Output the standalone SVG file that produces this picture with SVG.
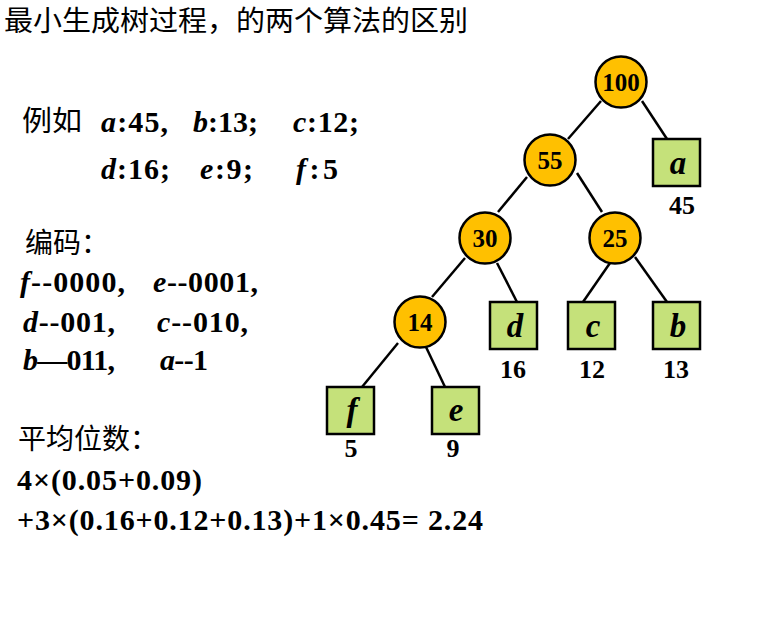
<svg xmlns="http://www.w3.org/2000/svg" width="762" height="620" viewBox="0 0 762 620">
<style>
.cjk{font-family:"Liberation Serif","Noto Sans CJK SC",serif;font-size:28px;fill:#000}
.bt{font-family:"Liberation Serif",serif;font-weight:bold;font-size:30px;fill:#000}
.it{font-style:italic}
.num{font-family:"Liberation Serif",serif;font-weight:bold;font-size:25px;text-anchor:middle;fill:#000}
.lbl{font-family:"Liberation Serif",serif;font-weight:bold;font-size:26px;text-anchor:middle;fill:#000}
.let{font-family:"Liberation Serif",serif;font-weight:bold;font-style:italic;font-size:33px;text-anchor:middle;fill:#000}
.c{fill:#FFC000;stroke:#000;stroke-width:2.5}
.r{fill:#C5E17A;stroke:#000;stroke-width:2.5}
.e{stroke:#000;stroke-width:2.5;fill:none}
</style>
<rect width="762" height="620" fill="#fff"/>
<text class="cjk" x="4" y="31" textLength="464" lengthAdjust="spacingAndGlyphs">最小生成树过程，的两个算法的区别</text>

<g id="example">
<text class="cjk" x="22" y="131" textLength="60" lengthAdjust="spacingAndGlyphs">例如</text>
<text class="bt" x="101" y="132" textLength="67" lengthAdjust="spacing"><tspan class="it">a</tspan>:45,</text>
<text class="bt" x="193" y="132" textLength="65" lengthAdjust="spacing"><tspan class="it">b</tspan>:13;</text>
<text class="bt" x="293" y="132" textLength="66" lengthAdjust="spacing"><tspan class="it">c</tspan>:12;</text>
<text class="bt" x="101" y="179" textLength="69" lengthAdjust="spacing"><tspan class="it">d</tspan>:16;</text>
<text class="bt" x="200" y="179" textLength="53" lengthAdjust="spacing"><tspan class="it">e</tspan>:9;</text>
<text class="bt" x="296" y="179" textLength="42" lengthAdjust="spacing"><tspan class="it">f</tspan>:5</text>
</g>

<g id="coding">
<text class="cjk" x="25" y="253">编码：</text>
<text class="bt" x="20" y="292" textLength="105" lengthAdjust="spacing"><tspan class="it">f</tspan>--0000,</text>
<text class="bt" x="153" y="292" textLength="105" lengthAdjust="spacing"><tspan class="it">e</tspan>--0001,</text>
<text class="bt" x="23" y="332" textLength="92" lengthAdjust="spacing"><tspan class="it">d</tspan>--001,</text>
<text class="bt" x="157" y="332" textLength="91" lengthAdjust="spacing"><tspan class="it">c</tspan>--010,</text>
<text class="bt" x="23" y="370" textLength="92" lengthAdjust="spacing"><tspan class="it">b</tspan>—011,</text>
<text class="bt" x="160" y="370" textLength="48" lengthAdjust="spacing"><tspan class="it">a</tspan>--1</text>
</g>

<g id="average">
<text class="cjk" x="18" y="449">平均位数：</text>
<text class="bt" x="17" y="490" textLength="185" lengthAdjust="spacing">4×(0.05+0.09)</text>
<text class="bt" x="17" y="530" textLength="466" lengthAdjust="spacing">+3×(0.16+0.12+0.13)+1×0.45= 2.24</text>
</g>

<g id="connectors">
<line class="e" x1="601" y1="101" x2="568" y2="139"/>
<line class="e" x1="642" y1="101" x2="667" y2="139"/>
<line class="e" x1="527" y1="177" x2="498" y2="212"/>
<line class="e" x1="577" y1="173" x2="602" y2="212"/>
<line class="e" x1="465" y1="258" x2="432" y2="297"/>
<line class="e" x1="497" y1="263" x2="517" y2="302"/>
<line class="e" x1="610" y1="263" x2="583" y2="302"/>
<line class="e" x1="635" y1="257" x2="667" y2="302"/>
<line class="e" x1="398" y1="343" x2="362" y2="387"/>
<line class="e" x1="426" y1="347" x2="445" y2="387"/>
</g>

<g id="n100"><circle class="c" cx="621" cy="82" r="25.5"/><text class="num" x="621" y="91">100</text></g>
<g id="n55"><circle class="c" cx="550" cy="160" r="25.5"/><text class="num" x="550" y="169">55</text></g>
<g id="n30"><circle class="c" cx="485" cy="238" r="25.5"/><text class="num" x="485" y="247">30</text></g>
<g id="n25"><circle class="c" cx="615" cy="238" r="25.5"/><text class="num" x="615" y="247">25</text></g>
<g id="n14"><circle class="c" cx="420" cy="322" r="25.5"/><text class="num" x="420" y="331">14</text></g>

<g id="leaf-a"><rect class="r" x="653" y="139" width="47" height="47"/><text class="let" x="678" y="174">a</text><text class="lbl" x="682" y="214">45</text></g>
<g id="leaf-d"><rect class="r" x="490" y="302" width="47" height="47"/><text class="let" x="515" y="337">d</text><text class="lbl" x="513" y="378">16</text></g>
<g id="leaf-c"><rect class="r" x="568" y="302" width="47" height="47"/><text class="let" x="593" y="337">c</text><text class="lbl" x="592" y="378">12</text></g>
<g id="leaf-b"><rect class="r" x="653" y="302" width="47" height="47"/><text class="let" x="678" y="337">b</text><text class="lbl" x="676" y="378">13</text></g>
<g id="leaf-f"><rect class="r" x="327" y="387" width="47" height="47"/><text class="let" x="352" y="421">f</text><text class="lbl" x="351" y="457">5</text></g>
<g id="leaf-e"><rect class="r" x="432" y="387" width="47" height="47"/><text class="let" x="456" y="421">e</text><text class="lbl" x="453" y="457">9</text></g>
</svg>
